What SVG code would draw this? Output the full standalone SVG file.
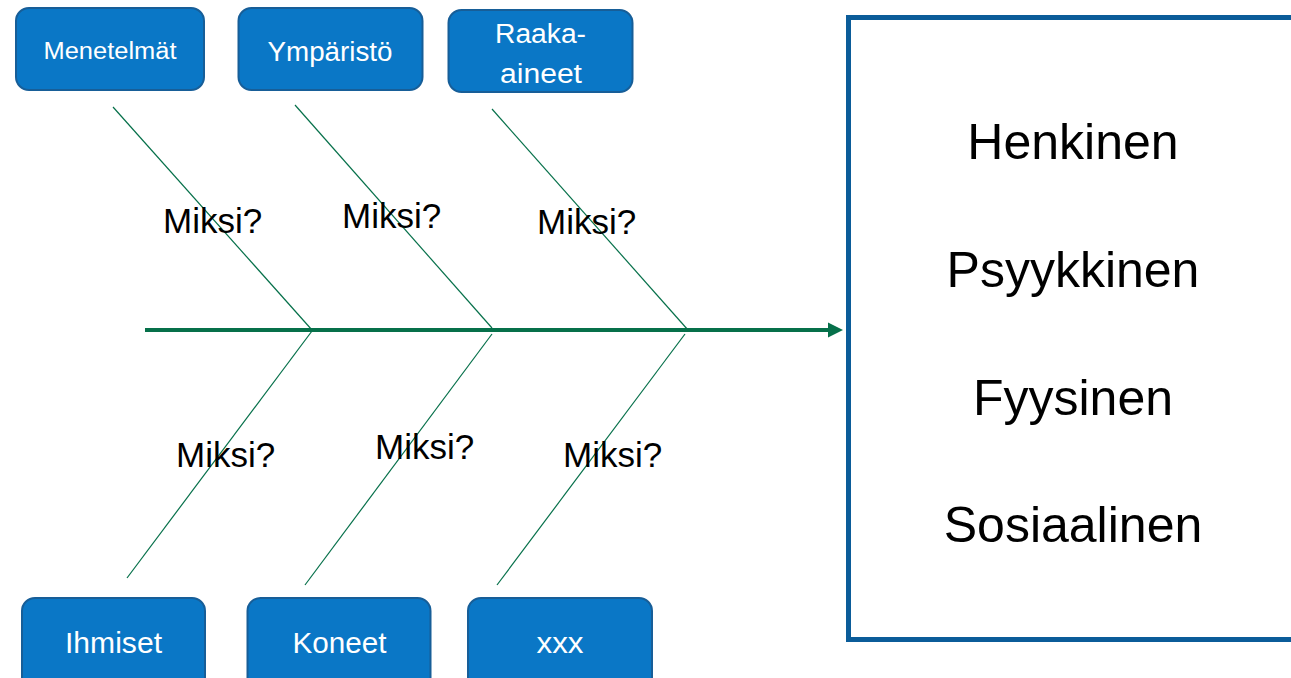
<svg xmlns="http://www.w3.org/2000/svg" width="1291" height="678" viewBox="0 0 1291 678">
<style>
.box{fill:#0A77C6;stroke:#175E98;stroke-width:2}
.lbl{fill:#ffffff;font-family:"Liberation Sans",Arial,sans-serif;text-anchor:middle}
.bone{stroke:#06704A;stroke-width:1.2;fill:none}
.q{font-family:"Liberation Sans",Arial,sans-serif;font-size:35px;fill:#000}
.eff{font-family:"Liberation Sans",Arial,sans-serif;font-size:50px;fill:#000;text-anchor:middle}
</style>
<defs>
<marker id="head" markerUnits="userSpaceOnUse" markerWidth="16" markerHeight="16" viewBox="0 0 16 16" refX="2" refY="8" orient="auto">
<path d="M0,0.5 L15,8 L0,15.5 Z" fill="#06704A"/>
</marker>
</defs>
<rect width="1291" height="678" fill="#ffffff"/>
<g id="effect">
<rect x="848.5" y="17.5" width="470" height="622" fill="#ffffff" stroke="#0B5C99" stroke-width="5"/>
<text class="eff" x="1073" y="159">Henkinen</text>
<text class="eff" x="1073" y="287">Psyykkinen</text>
<text class="eff" x="1073" y="415">Fyysinen</text>
<text class="eff" x="1073" y="542">Sosiaalinen</text>
</g>
<g id="connectors">
<line x1="145" y1="330" x2="830" y2="330" stroke="#06704A" stroke-width="4" marker-end="url(#head)"/>
<line class="bone" x1="113" y1="107" x2="312" y2="330"/>
<line class="bone" x1="295" y1="105" x2="492" y2="328"/>
<line class="bone" x1="492" y1="109" x2="688" y2="330"/>
<line class="bone" x1="312" y1="331" x2="127" y2="578"/>
<line class="bone" x1="492" y1="334" x2="305" y2="585"/>
<line class="bone" x1="685" y1="334" x2="497" y2="585"/>
</g>
<g id="labels">
<text class="q" x="163" y="233">Miksi?</text>
<text class="q" x="342" y="228">Miksi?</text>
<text class="q" x="537" y="234">Miksi?</text>
<text class="q" x="176" y="467">Miksi?</text>
<text class="q" x="375" y="459">Miksi?</text>
<text class="q" x="563" y="467">Miksi?</text>
</g>
<g id="menetelmat">
<rect class="box" x="16" y="8" width="188" height="82" rx="13"/>
<text class="lbl" x="110" y="59" font-size="23" textLength="133" lengthAdjust="spacingAndGlyphs">Menetelmät</text>
</g>
<g id="ymparisto">
<rect class="box" x="238.5" y="8" width="184" height="82" rx="13"/>
<text class="lbl" x="330" y="61" font-size="27" textLength="125" lengthAdjust="spacingAndGlyphs">Ympäristö</text>
</g>
<g id="raaka-aineet">
<rect class="box" x="448.5" y="10" width="184" height="82" rx="13"/>
<text class="lbl" x="540.5" y="43" font-size="27" textLength="91" lengthAdjust="spacingAndGlyphs">Raaka-</text>
<text class="lbl" x="541" y="82.5" font-size="27" textLength="82" lengthAdjust="spacingAndGlyphs">aineet</text>
</g>
<g id="ihmiset">
<rect class="box" x="22" y="598" width="183" height="100" rx="13"/>
<text class="lbl" x="113.5" y="653" font-size="30" textLength="97" lengthAdjust="spacingAndGlyphs">Ihmiset</text>
</g>
<g id="koneet">
<rect class="box" x="247.5" y="598" width="183" height="100" rx="13"/>
<text class="lbl" x="339.5" y="653" font-size="30" textLength="94" lengthAdjust="spacingAndGlyphs">Koneet</text>
</g>
<g id="xxx">
<rect class="box" x="468" y="598" width="184" height="100" rx="13"/>
<text class="lbl" x="560" y="653" font-size="30" textLength="47" lengthAdjust="spacingAndGlyphs">xxx</text>
</g>
</svg>
